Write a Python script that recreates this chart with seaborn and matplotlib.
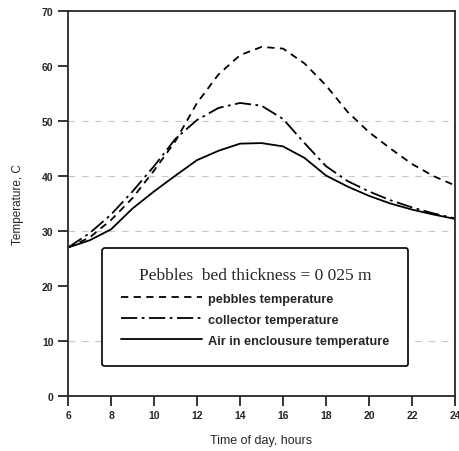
import pandas as pd
import matplotlib
matplotlib.use('Agg')
import matplotlib.pyplot as plt
import seaborn as sns

# Hourly values
hours = [6, 7, 8, 9, 10, 11, 12, 13, 14, 15, 16, 17, 18, 19, 20, 21, 22, 23, 24]
pebbles = [27.0, 28.8, 32.0, 36.0, 41.0, 46.4, 53.3, 58.5, 62.0, 63.5, 63.2, 60.5,
           56.5, 51.7, 48.0, 45.0, 42.2, 40.0, 38.3]
collector = [27.0, 29.6, 33.0, 37.2, 41.8, 46.8, 50.2, 52.4, 53.3, 52.8, 50.4, 46.0,
             41.8, 39.1, 37.2, 35.6, 34.3, 33.2, 32.3]
air = [27.0, 28.3, 30.3, 34.1, 37.2, 40.1, 42.9, 44.6, 45.9, 46.0, 45.4, 43.3,
       40.1, 38.1, 36.4, 35.0, 33.9, 33.0, 32.2]

labels = ['pebbles temperature', 'collector temperature', 'Air in enclousure temperature']
x_ticks = [6, 8, 10, 12, 14, 16, 18, 20, 22, 24]
y_ticks = [0, 10, 20, 30, 40, 50, 60, 70]

df = pd.DataFrame({'hour': hours, 'pebbles': pebbles, 'collector': collector, 'air': air})

sns.set_style('ticks')
plt.rcParams['font.family'] = ['Liberation Sans', 'DejaVu Sans']

fig = plt.figure(figsize=(4.6, 4.52), dpi=100)
ax = fig.add_axes([0.148, 0.122, 0.841, 0.851])

# faint scan-like grid lines
for yy in [10, 30, 40, 50]:
    ax.axhline(yy, color='0.78', lw=0.8, ls=(0, (6, 6)), zorder=0)

sns.lineplot(data=df, x='hour', y='pebbles', ax=ax, color='black', lw=1.3,
             linestyle=(0, (4, 3)), label=labels[0])
sns.lineplot(data=df, x='hour', y='collector', ax=ax, color='black', lw=1.3,
             linestyle=(0, (9, 2.5, 1.5, 2.5)), label=labels[1])
sns.lineplot(data=df, x='hour', y='air', ax=ax, color='black', lw=1.3,
             linestyle='-', label=labels[2])

ax.set_xlim(6, 24)
ax.set_ylim(0, 70)
ax.set_xticks(x_ticks)
ax.set_yticks(y_ticks)
ax.tick_params(axis='both', direction='out', length=7, width=1.3, labelsize=7.5)
for lab in ax.get_xticklabels() + ax.get_yticklabels():
    lab.set_fontweight('bold')
for sp in ax.spines.values():
    sp.set_linewidth(1.3)
    sp.set_visible(True)

ax.set_xlabel('Time of day, hours', fontsize=9, labelpad=10)
ax.set_ylabel('Temperature, C', fontsize=8.5, labelpad=13)

leg = ax.legend(loc='upper left', bbox_to_anchor=(0.088, 0.384),
                handlelength=6.3, handletextpad=0.45, labelspacing=0.72,
                frameon=True, fancybox=True, edgecolor='black', framealpha=1,
                borderpad=1.5, borderaxespad=0,
                title='Pebbles  bed thickness = 0 025 m',
                prop={'weight': 'bold', 'size': 9.2})
leg.get_title().set_fontfamily('Liberation Serif')
leg.get_title().set_fontsize(12.5)
leg.get_frame().set_linewidth(1.2)

fig.savefig('out.png', dpi=100)
